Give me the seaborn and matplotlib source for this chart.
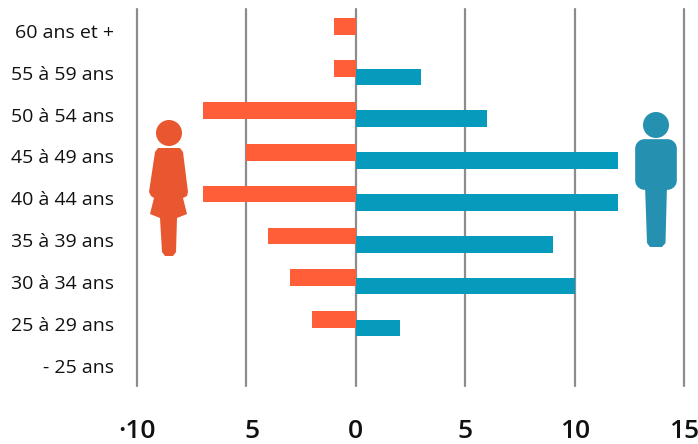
import numpy as np
import pandas as pd
import seaborn as sns
import matplotlib
matplotlib.use("Agg")
import matplotlib.pyplot as plt
from matplotlib.patches import Circle, Polygon, FancyBboxPatch
from matplotlib.transforms import Affine2D, ScaledTranslation

# data
ages = ["60 ans et +", "55 à 59 ans", "50 à 54 ans", "45 à 49 ans", "40 à 44 ans",
        "35 à 39 ans", "30 à 34 ans", "25 à 29 ans", "- 25 ans"]
femmes = [1, 1, 7, 5, 7, 4, 3, 2, 0]
hommes = [0, 3, 6, 12, 12, 9, 10, 2, 0]
x_ticks = [-10, -5, 0, 5, 10, 15]
x_labels = ["·10", "5", "0", "5", "10", "15"]

ORANGE = "#FF5E38"
BLUE = "#069ABC"
W, H = 698, 444

sns.set_theme(style="white")
plt.rcParams["font.family"] = ["Open Sans", "DejaVu Sans"]

df = pd.DataFrame({"age": ages, "femmes": -np.array(femmes), "hommes": hommes})

fig = plt.figure(figsize=(W / 100, H / 100), dpi=100)
ax = fig.add_axes([137 / W, 1 - 386 / H, (684 - 137) / W, (386 - 9) / H])

# bars overlap a little, so one call per side then nudge up/down
sns.barplot(data=df, y="age", x="femmes", order=ages, color=ORANGE, saturation=1, width=0.4, linewidth=0, ax=ax, zorder=3)
sns.barplot(data=df, y="age", x="hommes", order=ages, color=BLUE, saturation=1, width=0.4, linewidth=0, ax=ax, zorder=3)
for bar in ax.containers[0]:
    bar.set_y(bar.get_y() - 0.1)
for bar in ax.containers[1]:
    bar.set_y(bar.get_y() + 0.1)

ax.set_xlim(-10, 15)
ax.set_ylim(8.49, -0.526)
ax.set_xlabel("")
ax.set_ylabel("")
sns.despine(ax=ax, left=True, bottom=True, top=True, right=True)

ax.set_axisbelow(True)
ax.xaxis.grid(True, color="#8c8c8c", linewidth=1.6, clip_on=False)
ax.yaxis.grid(False)
for line in ax.get_xgridlines():
    line.set_clip_on(False)

ax.set_xticks(x_ticks)
ax.set_xticklabels(x_labels, fontsize=19, fontweight=600, color="#111111")
ax.tick_params(axis="x", length=0, pad=23.5)
ax.tick_params(axis="y", length=0, pad=16.5, labelsize=14, labelcolor="#111111")

# the "5" on the left sits off its line in the original
lab = ax.get_xticklabels()[1]
lab.set_transform(lab.get_transform() + ScaledTranslation(6 / 100, 0, fig.dpi_scale_trans))

# pictograms, in pixel coords of the image
px = Affine2D().scale(1 / W, -1 / H).translate(0, 1) + fig.transFigure
woman = "#E8572F"
man = "#2690B0"
fig.add_artist(Circle((169, 133), 13, color=woman, transform=px, lw=0))
fig.add_artist(Polygon([(158, 148), (180, 148), (183, 152), (188, 192), (187, 196), (183, 198), (187, 214),
                        (177, 218), (176, 252), (173, 256), (165, 256), (162, 252), (160, 218), (150, 214),
                        (154, 198), (151, 196), (149, 192), (155, 152)],
                       closed=True, color=woman, transform=px, lw=0))
fig.add_artist(Circle((656, 125), 13, color=man, transform=px, lw=0))
fig.add_artist(FancyBboxPatch((643.5, 147.5), 25, 34, boxstyle="round,pad=0,rounding_size=1", color=man,
                              transform=px, lw=12, joinstyle="round"))
fig.add_artist(Polygon([(645, 185), (667, 185), (665.5, 243), (662, 247), (650, 247), (647, 243)],
                       closed=True, color=man, transform=px, lw=0))

fig.savefig("out.png", dpi=100, facecolor="white")
